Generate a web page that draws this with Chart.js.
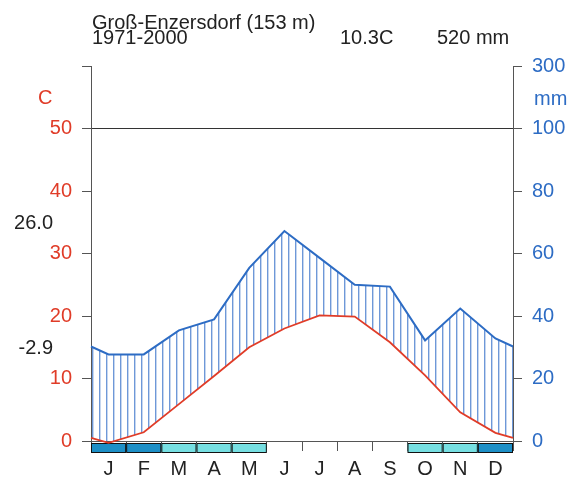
<!DOCTYPE html>
<html lang="de">
<head>
  <meta charset="UTF-8">
  <title>Klimadiagramm Groß-Enzersdorf</title>
  <style>
    body { margin: 0; background: #fff; }
    #box { width: 578px; height: 477px; }
  </style>
</head>
<body>
  <div id="box"><canvas id="grafico"></canvas></div>

  <script src="https://cdn.jsdelivr.net/npm/chart.js"></script>
  <script>
    // datos del diagrama
    const meses = ['J', 'F', 'M', 'A', 'M', 'J', 'J', 'A', 'S', 'O', 'N', 'D'];
    const temperatura = [-0.3, 1.4, 5.9, 10.4, 15.0, 18.0, 20.1, 19.9, 15.8, 10.5, 4.6, 1.3];
    const precipitacion = [27.7, 27.7, 35.4, 38.9, 55.4, 67.2, 58.6, 50.0, 49.4, 32.2, 42.4, 32.8];
    // 2 = helada segura, 1 = helada probable, 0 = sin helada
    const heladas = [2, 2, 1, 1, 1, 0, 0, 0, 0, 1, 1, 2];
    const ticksTemp = [0, 10, 20, 30, 40, 50, 60];
    const ticksPrec = [0, 20, 40, 60, 80, 100, 120];
    const cabecera = ['Groß-Enzersdorf (153 m)', '1971-2000', '10.3C', '520 mm'];
    const extremos = ['26.0', '-2.9'];

    const ROJO = '#e03c28';
    const AZUL = '#2d6cc4';
    const FUENTE = "'Liberation Sans', Arial, Helvetica, sans-serif";

    // serie con los bordes enlazando diciembre y enero
    function serie(valores) {
      const borde = (valores[0] + valores[11]) / 2;
      const puntos = [{ x: 0, y: borde }];
      valores.forEach((v, i) => puntos.push({ x: i + 0.5, y: v }));
      puntos.push({ x: 12, y: borde });
      return puntos;
    }

    // patrón de rayas verticales
    const rayas = document.createElement('canvas');
    rayas.width = 7;
    rayas.height = 8;
    const rctx = rayas.getContext('2d');
    rctx.fillStyle = '#6e98d8';
    rctx.fillRect(1, 0, 1.4, 8);

    const lienzo = document.getElementById('grafico');
    const patron = lienzo.getContext('2d').createPattern(rayas, 'repeat');

    const extras = {
      id: 'extras',
      beforeDatasetsDraw(chart) {
        const { ctx, chartArea, scales } = chart;
        ctx.save();
        ctx.lineWidth = 1;
        ctx.strokeStyle = '#111';
        heladas.forEach((h, i) => {
          if (!h) return;
          const x0 = scales.x.getPixelForValue(i);
          const x1 = scales.x.getPixelForValue(i + 1);
          ctx.fillStyle = h === 2 ? '#1d8fc6' : '#76dfe2';
          ctx.fillRect(x0, chartArea.bottom + 2, x1 - x0, 9);
          ctx.strokeRect(x0 + 0.5, chartArea.bottom + 2.5, x1 - x0 - 1, 9);
        });
        ctx.restore();
      },
      afterDraw(chart) {
        const { ctx } = chart;
        ctx.save();
        ctx.font = '20px ' + FUENTE;
        ctx.textBaseline = 'alphabetic';
        ctx.fillStyle = '#222';
        ctx.fillText(cabecera[0], 92, 29);
        ctx.fillText(cabecera[1], 92, 44);
        ctx.fillText(cabecera[2], 340, 44);
        ctx.fillText(cabecera[3], 437, 44);

        ctx.fillStyle = ROJO;
        ctx.fillText('C', 38, 104);
        ctx.fillStyle = AZUL;
        ctx.fillText('mm', 534, 105);

        ctx.fillStyle = '#222';
        ctx.textAlign = 'right';
        ctx.textBaseline = 'middle';
        ctx.fillText(extremos[0], 53, 223);
        ctx.fillText(extremos[1], 53, 348);
        ctx.restore();
      }
    };

    new Chart(lienzo, {
      type: 'line',
      data: {
        datasets: [
          {
            label: 'Temperatura',
            data: serie(temperatura),
            yAxisID: 'y',
            borderColor: ROJO,
            borderWidth: 1.8,
            pointRadius: 0,
            fill: false,
            clip: false
          },
          {
            label: 'Precipitación',
            data: serie(precipitacion),
            yAxisID: 'y2',
            borderColor: AZUL,
            borderWidth: 2,
            pointRadius: 0,
            backgroundColor: patron,
            fill: 0,
            clip: false
          }
        ]
      },
      options: {
        responsive: true,
        maintainAspectRatio: false,
        animation: false,
        layout: { padding: { top: 66 } },
        plugins: { legend: { display: false }, tooltip: { enabled: false } },
        scales: {
          x: {
            type: 'linear',
            min: 0,
            max: 12,
            afterFit: s => { s.height = 36; },
            afterBuildTicks: s => { s.ticks = meses.map((m, i) => ({ value: i })).concat([{ value: 12 }]); },
            ticks: {
              callback: v => meses[v] || '',
              labelOffset: (578 - 91 - 65) / 24,
              padding: 6,
              color: '#222',
              font: { family: FUENTE, size: 20 }
            },
            grid: { drawOnChartArea: false, tickLength: 10, tickColor: '#555' },
            border: { color: '#555' }
          },
          y: {
            position: 'left',
            min: 0,
            max: 60,
            afterFit: s => { s.width = 91; },
            afterBuildTicks: s => { s.ticks = ticksTemp.map(v => ({ value: v })); },
            ticks: {
              callback: v => (v <= 50 ? v : ''),
              padding: 10,
              color: ROJO,
              font: { family: FUENTE, size: 20 }
            },
            grid: {
              tickLength: 9,
              tickColor: '#555',
              color: c => (c.tick && c.tick.value === 50 ? '#333' : 'rgba(0,0,0,0)')
            },
            border: { color: '#555' }
          },
          y2: {
            position: 'right',
            min: 0,
            max: 120,
            afterFit: s => { s.width = 65; },
            afterBuildTicks: s => { s.ticks = ticksPrec.map(v => ({ value: v })); },
            ticks: {
              callback: v => (v > 100 ? 100 + (v - 100) * 10 : v),
              padding: 10,
              color: AZUL,
              font: { family: FUENTE, size: 20 }
            },
            grid: { drawOnChartArea: false, tickLength: 9, tickColor: '#555' },
            border: { color: '#555' }
          }
        }
      },
      plugins: [extras]
    });
  </script>
</body>
</html>
